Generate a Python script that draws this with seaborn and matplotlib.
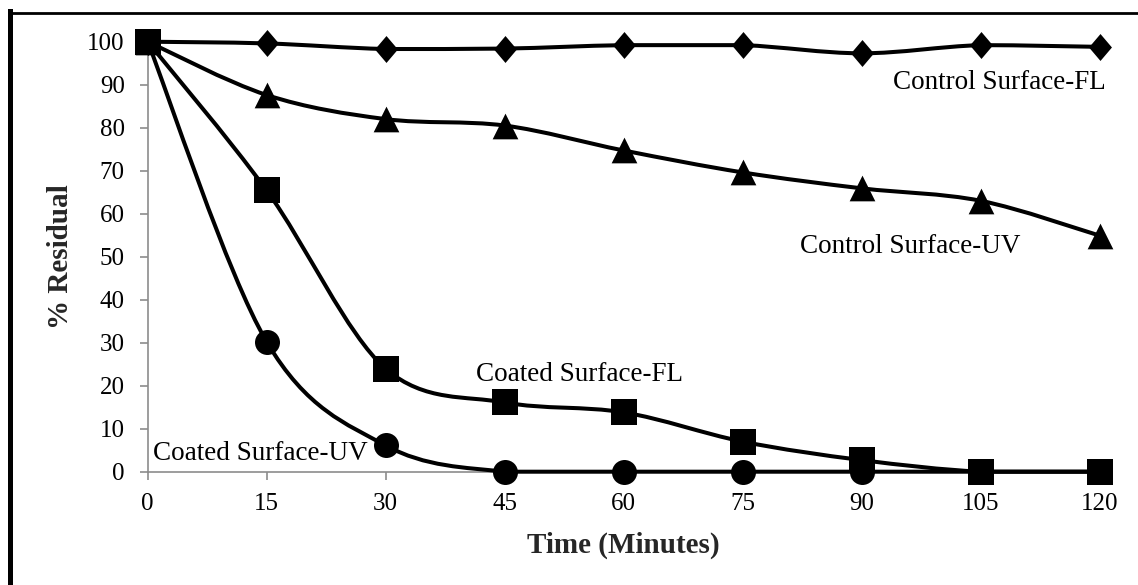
import numpy as np
import pandas as pd
import matplotlib
matplotlib.use("Agg")
import matplotlib.pyplot as plt
from matplotlib.path import Path
from matplotlib.patches import PathPatch
from matplotlib.lines import Line2D
import seaborn as sns

# Sampling times (minutes) and % residual for each surface / light condition
time_min = [0, 15, 30, 45, 60, 75, 90, 105, 120]
control_fl = [100, 99.6, 98.3, 98.4, 99.2, 99.2, 97.3, 99.2, 98.8]
control_uv = [100, 87.6, 82.0, 80.5, 74.7, 69.6, 65.9, 63.0, 54.9]
coated_uv = [100, 30.2, 6.1, 0, 0, 0, 0, 0, 0]
coated_fl = [100, 65.4, 23.9, 16.1, 13.8, 7.0, 2.7, 0, 0]

series_names = ["Control Surface-FL", "Control Surface-UV",
                "Coated Surface-UV", "Coated Surface-FL"]
series_values = [control_fl, control_uv, coated_uv, coated_fl]

x_ticks = [0, 15, 30, 45, 60, 75, 90, 105, 120]
y_ticks = [0, 10, 20, 30, 40, 50, 60, 70, 80, 90, 100]

frames = []
for name, vals in zip(series_names, series_values):
    frames.append(pd.DataFrame({"Time": time_min, "Residual": vals, "Series": name}))
df = pd.concat(frames, ignore_index=True)

sns.set_style("ticks")
plt.rcParams["font.family"] = ["Liberation Serif", "DejaVu Serif"]

W, H = 1138, 585
fig = plt.figure(figsize=(W / 100, H / 100), dpi=100)
ax = fig.add_axes([147.7 / W, 1 - 471.7 / H, 952 / W, 430 / H])

marker_style = {
    "Control Surface-FL": ([(0, 1), (0.85, 0), (0, -1), (-0.85, 0), (0, 1)], 19.4),
    "Control Surface-UV": ("^", 18.5),
    "Coated Surface-UV": ("o", 18.0),
    "Coated Surface-FL": ("s", 18.4),
}


def smooth_path(xs, ys):
    """Cubic Bezier path through the points; control points are kept within
    each segment's value range so the curve never overshoots."""
    P = np.column_stack([xs, ys]).astype(float)
    n = len(P)
    verts = [P[0]]
    codes = [Path.MOVETO]
    for i in range(n - 1):
        p0 = P[max(i - 1, 0)]
        p1 = P[i]
        p2 = P[i + 1]
        p3 = P[min(i + 2, n - 1)]
        c1 = p1 + (p2 - p0) / 6.0
        c2 = p2 - (p3 - p1) / 6.0
        lo, hi = min(p1[1], p2[1]), max(p1[1], p2[1])
        c1[1] = np.clip(c1[1], lo, hi)
        c2[1] = np.clip(c2[1], lo, hi)
        verts += [c1, c2, p2]
        codes += [Path.CURVE4] * 3
    return Path(verts, codes)


z = 2
for name in series_names:
    sub = df[df["Series"] == name]
    patch = PathPatch(smooth_path(sub["Time"], sub["Residual"]), facecolor="none",
                      edgecolor="black", lw=2.9, capstyle="round",
                      joinstyle="round", zorder=z, clip_on=False)
    ax.add_patch(patch)
    mk, ms = marker_style[name]
    n_before = len(ax.collections)
    sns.scatterplot(data=sub, x="Time", y="Residual", marker=mk, s=ms ** 2,
                    color="black", edgecolor="black", linewidth=0, ax=ax,
                    zorder=z + 1, legend=False)
    for coll in ax.collections[n_before:]:
        coll.set_clip_on(False)
    z += 2

ax.set_xlim(0, 120)
ax.set_ylim(0, 100)
ax.set_xticks(x_ticks)
ax.set_yticks(y_ticks)
ax.set_xticklabels([str(v) for v in x_ticks])
ax.set_yticklabels([str(v) for v in y_ticks])

spine_col = "#8c8c8c"
for side in ["top", "right"]:
    ax.spines[side].set_visible(False)
for side in ["left", "bottom"]:
    ax.spines[side].set_color(spine_col)
    ax.spines[side].set_linewidth(1.2)
ax.tick_params(axis="both", direction="out", length=5.5, width=1.2,
               color=spine_col, labelsize=18, labelcolor="black")
ax.tick_params(axis="y", pad=11)
ax.tick_params(axis="x", pad=10)

ax.set_xlabel("Time (Minutes)", fontsize=21, fontweight="bold")
ax.set_ylabel("% Residual", fontsize=21, fontweight="bold")
ax.xaxis.set_label_coords(0.5, (471.7 - 545) / 430)
ax.xaxis.label.set_va("center")
ax.yaxis.set_label_coords((60 - 147.7) / 952, 0.5)
ax.yaxis.label.set_va("center")

# Series labels placed beside their curves
label_pos = {
    "Control Surface-FL": (93.9, 90.6),
    "Control Surface-UV": (82.2, 52.3),
    "Coated Surface-FL": (41.4, 22.7),
    "Coated Surface-UV": (0.7, 4.3),
}
for name, (lx, ly) in label_pos.items():
    ax.text(lx, ly, name, fontsize=19.5, ha="left", va="center", color="black",
            zorder=20)

ax.set_facecolor("white")
fig.patch.set_facecolor("white")

# Chart-area border (left and top edges fall inside the canvas)
fig.add_artist(Line2D([10 / W, 10 / W], [0, 1 - 11 / H], transform=fig.transFigure,
                      color="black", lw=3.6, solid_capstyle="projecting"))
fig.add_artist(Line2D([10 / W, 1], [1 - 12.5 / H, 1 - 12.5 / H], transform=fig.transFigure,
                      color="black", lw=2.0, solid_capstyle="projecting"))

fig.savefig("out.png", dpi=100, facecolor="white")
